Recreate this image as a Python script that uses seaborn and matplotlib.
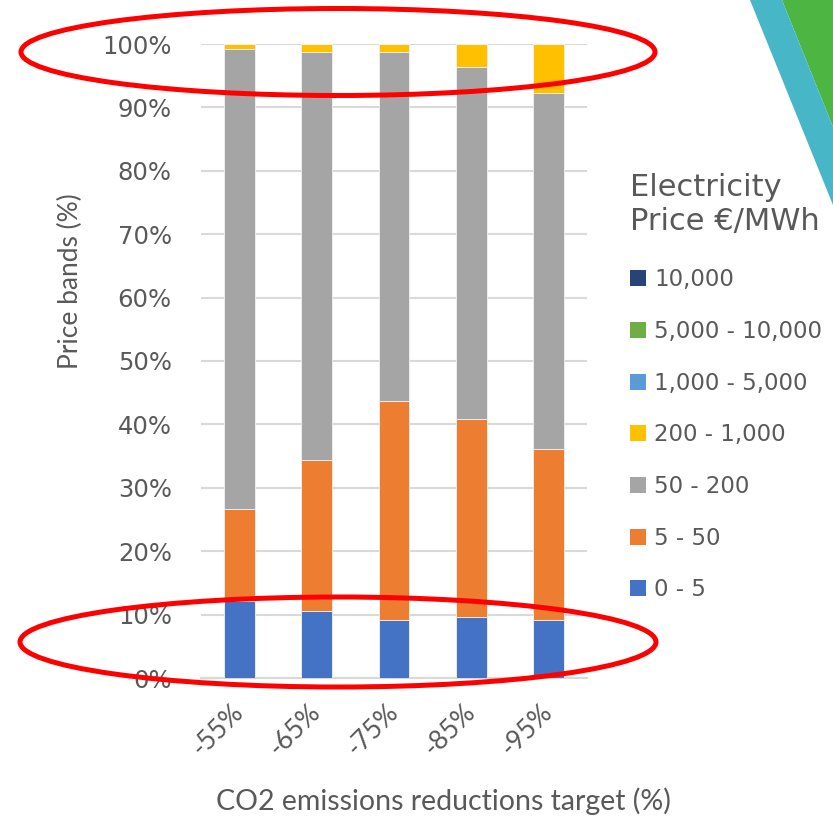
import matplotlib
matplotlib.use("Agg")
import matplotlib.pyplot as plt
from matplotlib.patches import Ellipse, Patch, Polygon
import numpy as np
import pandas as pd
import seaborn as sns

# CO2 reduction scenarios
targets = ["-55%", "-65%", "-75%", "-85%", "-95%"]

# Share of hours in each electricity price band (%), bottom band first
bands = ["0 - 5", "5 - 50", "50 - 200", "200 - 1,000",
         "1,000 - 5,000", "5,000 - 10,000", "10,000"]
band_0_5 = [12.2, 10.5, 9.2, 9.6, 9.2]
band_5_50 = [14.4, 23.9, 34.5, 31.2, 26.9]
band_50_200 = [72.6, 64.3, 55.0, 55.5, 56.1]
band_200_1000 = [0.8, 1.3, 1.3, 3.7, 7.8]
band_1000_5000 = [0.0, 0.0, 0.0, 0.0, 0.0]
band_5000_10000 = [0.0, 0.0, 0.0, 0.0, 0.0]
band_10000 = [0.0, 0.0, 0.0, 0.0, 0.0]

colors = ["#4472C4", "#ED7D31", "#A5A5A5", "#FFC000",
          "#5B9BD5", "#70AD47", "#264478"]

series = [band_0_5, band_5_50, band_50_200, band_200_1000,
          band_1000_5000, band_5000_10000, band_10000]

TXT = "#595959"
W, H, DPI = 833, 817, 100

sns.set_theme(style="white")
plt.rcParams["font.family"] = ["DejaVu Sans"]

fig = plt.figure(figsize=(W / DPI, H / DPI), dpi=DPI)
ax = fig.add_axes([201 / W, 1 - 678 / H, (587 - 201) / W, (678 - 44) / H])

bottom = np.zeros(len(targets))
for name, vals, col in zip(bands, series, colors):
    df = pd.DataFrame({"target": targets, "share": np.array(vals) / 100.0})
    sns.barplot(data=df, x="target", y="share", order=targets, color=col,
                width=0.4, bottom=bottom, edgecolor="#F2F2F2", linewidth=0.6,
                saturation=1, ax=ax, zorder=3)
    bottom = bottom + np.array(vals) / 100.0

ax.set_ylim(0, 1)
ax.set_xlim(-0.5, len(targets) - 0.5)
ax.set_yticks(np.arange(0, 1.01, 0.1))
ax.set_yticklabels([f"{int(round(v * 100))}%" for v in np.arange(0, 1.01, 0.1)])
ax.yaxis.grid(True, color="#D9D9D9", linewidth=1.5, zorder=0)
ax.set_axisbelow(True)
for s in ["top", "right", "left"]:
    ax.spines[s].set_visible(False)
ax.spines["bottom"].set_color("#D9D9D9")
ax.spines["bottom"].set_linewidth(1.5)
ax.tick_params(axis="y", length=0, pad=21, labelsize=17.5, labelcolor=TXT)
ax.tick_params(axis="x", length=0, pad=22, labelsize=19, labelcolor=TXT)
for lab in ax.get_xticklabels():
    lab.set_rotation(45)
    lab.set_ha("right")
    lab.set_va("center")
    lab.set_rotation_mode("anchor")
    lab.set_fontfamily("Lato")
ax.set_xlabel("")
ax.set_ylabel("")

fig.text(443 / W, 1 - 801 / H, "CO2 emissions reductions target (%)",
         ha="center", va="center", fontsize=20.5, color=TXT, family="Lato")
fig.text(70 / W, 1 - 281 / H, "Price bands (%)", rotation=90,
         ha="center", va="center", fontsize=19, color=TXT, family="Lato")

handles = [Patch(facecolor=c, edgecolor="none") for c in colors][::-1]
labels = bands[::-1]
leg = fig.legend(handles, labels, loc="upper left",
                 bbox_to_anchor=(630 / W, 1 - 173 / H),
                 frameon=False, title="Electricity\nPrice €/MWh",
                 title_fontsize=22, fontsize=16.5, handlelength=0.7,
                 handleheight=0.7, handletextpad=0.35, labelspacing=1.25,
                 borderpad=0, borderaxespad=0, alignment="left")
leg.get_title().set_color(TXT)
for t in leg.get_texts():
    t.set_color(TXT)
# nudge the entry block slightly below the title
leg._legend_box.sep = leg._legend_box.sep + 3

# Overlay in pixel units for highlight rings and the corner decoration
ov = fig.add_axes([0, 0, 1, 1], zorder=10)
ov.set_xlim(0, W)
ov.set_ylim(H, 0)
ov.axis("off")
ov.patch.set_alpha(0)
ov.add_patch(Polygon([(782, 0), (833, 0), (833, 127)], closed=True,
                     facecolor="#4DB541", edgecolor="none"))
ov.add_patch(Polygon([(750, 0), (782, 0), (833, 127), (833, 205)], closed=True,
                     facecolor="#47B6C6", edgecolor="none"))
ov.add_patch(Ellipse((338, 52), 634, 87, fill=False, edgecolor="#FF0000",
                     linewidth=3.6))
ov.add_patch(Ellipse((338, 642), 636, 90, fill=False, edgecolor="#FF0000",
                     linewidth=3.6))

fig.savefig("out.png", dpi=DPI, facecolor="white")
